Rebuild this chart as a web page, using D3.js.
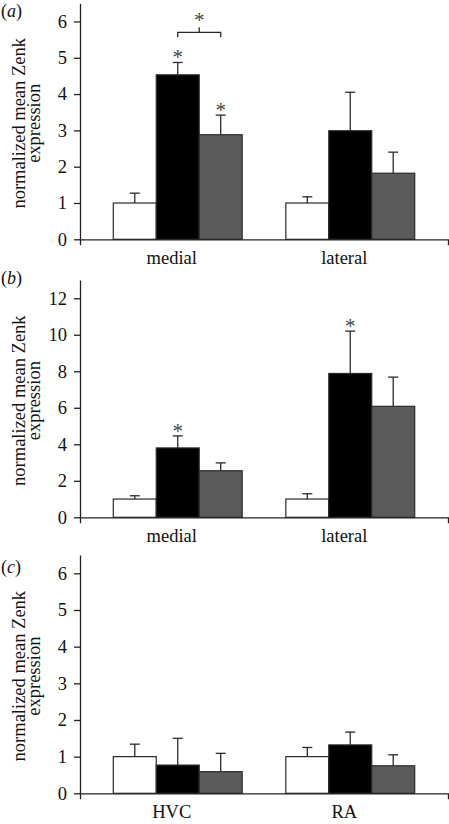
<!DOCTYPE html>
<html><head><meta charset="utf-8">
<script src="https://cdn.jsdelivr.net/npm/d3@7"></script>
<style>
html,body{margin:0;padding:0;background:#fff;}
text{font-family:"Liberation Serif","Times New Roman",serif;fill:#111;}
</style></head>
<body><svg id="chart" width="449" height="824"></svg>
<script>
// ---- data ----
const seriesNames = ["group 1", "group 2", "group 3"];
const seriesFill = ["#ffffff", "#000000", "#5b5b5b"];

const catsA = ["medial", "lateral"];
const meansA = [[1.0, 4.53, 2.88], [1.0, 2.99, 1.82]];
const errA   = [[0.27, 0.34, 0.54], [0.17, 1.06, 0.58]];
const ticksA = [0, 1, 2, 3, 4, 5, 6];

const catsB = ["medial", "lateral"];
const meansB = [[1.0, 3.8, 2.55], [1.0, 7.88, 6.08]];
const errB   = [[0.18, 0.66, 0.43], [0.29, 2.32, 1.6]];
const ticksB = [0, 2, 4, 6, 8, 10, 12];

const catsC = ["HVC", "RA"];
const meansC = [[1.0, 0.77, 0.59], [1.0, 1.32, 0.75]];
const errC   = [[0.34, 0.73, 0.50], [0.25, 0.35, 0.30]];
const ticksC = [0, 1, 2, 3, 4, 5, 6];

// significance stars: [category index, series index]
const starsA = [[0, 1], [0, 2]];
const starsB = [[0, 1], [1, 1]];
const starsC = [];
// bracket: [category index, series from, series to, value level]
const bracketA = [[0, 1, 2, 5.7]];

const panels = [
  {label: "a", cats: catsA, means: meansA, err: errA, ticks: ticksA, ymax: 6.5, top: 3.3, bottom: 239.3, stars: starsA, brackets: bracketA, labelY: 17},
  {label: "b", cats: catsB, means: meansB, err: errB, ticks: ticksB, ymax: 13, top: 280, bottom: 517.3, stars: starsB, brackets: [], labelY: 284},
  {label: "c", cats: catsC, means: meansC, err: errC, ticks: ticksC, ymax: 6.5, top: 555, bottom: 793.3, stars: starsC, brackets: [], labelY: 573}
];

const svg = d3.select("#chart");
const xLeft = 80, xRight = 448;
const axisColor = "#222";

panels.forEach(p => {
  const g = svg.append("g");
  const y = d3.scaleLinear().domain([0, p.ymax]).range([p.bottom, p.top]);
  const x = d3.scaleBand().domain(p.cats).range([xLeft, xRight]).paddingOuter(0.193).paddingInner(0.253);
  const xs = d3.scaleBand().domain(seriesNames).range([0, x.bandwidth()]);

  // bars
  p.cats.forEach((c, ci) => {
    const gg = g.append("g").attr("transform", `translate(${x(c)},0)`);
    seriesNames.forEach((s, si) => {
      const v = p.means[ci][si];
      gg.append("rect")
        .attr("x", xs(s)).attr("y", y(v))
        .attr("width", xs.bandwidth()).attr("height", y(0) - y(v))
        .attr("fill", seriesFill[si]).attr("stroke", "#2a2a2a").attr("stroke-width", 1.2);
      const cx = xs(s) + xs.bandwidth() / 2;
      const top = v + p.err[ci][si];
      gg.append("line").attr("x1", cx).attr("x2", cx).attr("y1", y(v)).attr("y2", y(top))
        .attr("stroke", "#2a2a2a").attr("stroke-width", 1.3);
      gg.append("line").attr("x1", cx - 5).attr("x2", cx + 5).attr("y1", y(top)).attr("y2", y(top))
        .attr("stroke", "#2a2a2a").attr("stroke-width", 1.3);
    });
  });

  // stars
  p.stars.forEach(([ci, si]) => {
    const c = p.cats[ci], s = seriesNames[si];
    const cx = x(c) + xs(s) + xs.bandwidth() / 2;
    const top = p.means[ci][si] + p.err[ci][si];
    g.append("text").attr("x", cx).attr("y", y(top) + 2)
      .attr("text-anchor", "middle").style("font-size", "21px").style("fill", "#444").text("*");
  });

  // brackets
  p.brackets.forEach(([ci, s1, s2, lvl]) => {
    const c = p.cats[ci];
    const x1 = x(c) + xs(seriesNames[s1]) + xs.bandwidth() / 2;
    const x2 = x(c) + xs(seriesNames[s2]) + xs.bandwidth() / 2;
    const yy = y(lvl);
    const xm = (x1 + x2) / 2;
    g.append("path").attr("d", `M${x1},${yy + 5}V${yy}H${x2}V${yy + 5}M${xm},${yy}V${yy - 5}`)
      .attr("fill", "none").attr("stroke", "#2a2a2a").attr("stroke-width", 1.3);
    g.append("text").attr("x", xm).attr("y", yy - 5)
      .attr("text-anchor", "middle").style("font-size", "21px").style("fill", "#444").text("*");
  });

  // y axis
  const ya = g.append("g").attr("transform", `translate(${xLeft},0)`)
    .call(d3.axisLeft(y).tickValues(p.ticks).tickFormat(d3.format("d")).tickSize(6).tickSizeOuter(0).tickPadding(7));
  ya.selectAll("path,line").attr("stroke", axisColor).attr("stroke-width", 1.3);
  ya.selectAll("text").style("font-size", "18.5px").style("font-family", "'Liberation Serif',serif").attr("fill", "#111");

  // x axis
  const xa = g.append("g").attr("transform", `translate(0,${p.bottom})`)
    .call(d3.axisBottom(x).tickSize(0).tickSizeOuter(6).tickPadding(8));
  xa.selectAll("path").attr("stroke", axisColor).attr("stroke-width", 1.3);
  xa.selectAll(".tick").attr("transform", d => `translate(${x(d) + x.bandwidth() / 2 - 6},0)`);
  xa.selectAll("text").style("font-size", "18.5px").style("font-family", "'Liberation Serif',serif")
    .attr("fill", "#111").attr("dy", null).attr("y", 25);

  // y title
  const cy = (p.top + p.bottom) / 2 + 2;
  const t = g.append("text").attr("transform", `translate(25,${cy}) rotate(-90)`)
    .attr("text-anchor", "middle").style("font-size", "18.5px");
  t.append("tspan").attr("x", 0).attr("y", 0).text("normalized mean Zenk");
  t.append("tspan").attr("x", 0).attr("y", 15).text("expression");

  // panel label
  const pl = g.append("text").attr("x", 1).attr("y", p.labelY).style("font-size", "18px");
  pl.append("tspan").text("(");
  pl.append("tspan").style("font-style", "italic").text(p.label);
  pl.append("tspan").text(")");
});
</script></body></html>
